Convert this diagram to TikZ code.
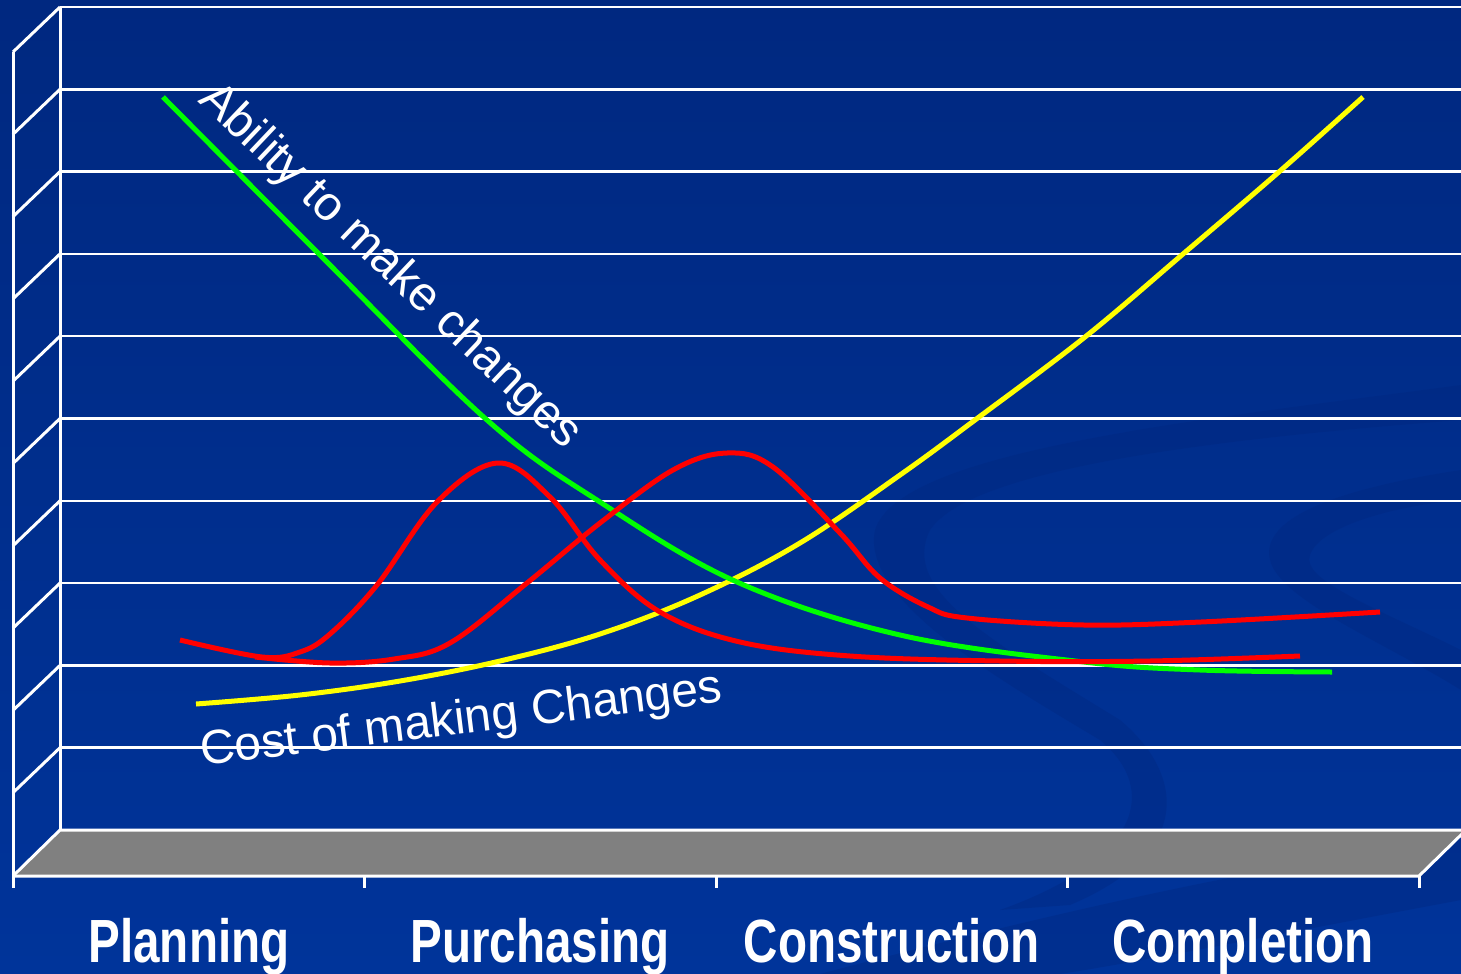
\documentclass[tikz,border=0pt]{standalone}
\usepackage{fontspec}
\setmainfont{Liberation Sans}
\newfontfamily\phasefont[FakeStretch=0.78]{Liberation Sans}
\definecolor{slidetop}{RGB}{0,40,128}
\definecolor{slideblue}{RGB}{0,52,154}
\definecolor{swirl}{RGB}{0,38,125}
\definecolor{floorgray}{RGB}{128,128,128}
\definecolor{abilitygreen}{RGB}{0,255,0}
\definecolor{costyellow}{RGB}{255,255,0}
\definecolor{effortred}{RGB}{255,0,0}

\begin{document}
\begin{tikzpicture}[x=1pt,y=-1pt,
  grid/.style={white, line width=2.5pt},
  frame/.style={white, line width=3pt},
  curve/.style={line width=5pt},
  phase/.style={white, inner sep=0pt, font=\phasefont\bfseries\fontsize{61}{70}\selectfont},
  note/.style={white, inner sep=0pt, font=\fontsize{48}{56}\selectfont}]
\useasboundingbox (0,0) rectangle (1461,974);
\shade[top color=slidetop, bottom color=slideblue] (0,0) rectangle (1461,974);

% faint swirls of the slide background
\fill[swirl, opacity=0.35] (1461,385) .. controls (1200,420) and (900,450) .. (875,530)
  .. controls (860,600) and (1000,680) .. (1100,740) .. controls (1160,790) and (1140,860) .. (1000,910)
  -- (1070,905) .. controls (1200,850) and (1180,770) .. (1120,720)
  .. controls (990,640) and (900,590) .. (930,530) .. controls (970,470) and (1200,440) .. (1461,420) -- cycle;
\fill[swirl, opacity=0.35] (1461,470) .. controls (1330,490) and (1260,520) .. (1270,560)
  .. controls (1280,600) and (1380,640) .. (1461,690) -- (1461,650)
  .. controls (1380,610) and (1300,580) .. (1310,555) .. controls (1320,525) and (1400,505) .. (1461,500) -- cycle;
\fill[swirl, opacity=0.35] (820,974) .. controls (1100,900) and (1300,860) .. (1461,840)
  -- (1461,900) .. controls (1300,930) and (1150,960) .. (1060,974) -- cycle;

% back wall and side wall
\foreach \k in {0,...,10}
  \draw[grid] (60,{7+82.3*\k}) -- (1461,{7+82.3*\k});
\foreach \k in {0,...,9}
  \draw[frame] (60,{7+82.3*\k}) -- (13,{52+82.3*\k});
\draw[frame] (60,7) -- (60,830);
\draw[frame] (13,52) -- (13,888);

% floor
\fill[floorgray] (60,830) -- (1466,830) -- (1419,876) -- (13,876) -- cycle;
\draw[frame] (13,876) -- (60,830) -- (1466,830);
\draw[frame] (13,876) -- (1419,876) -- (1466,830);
\foreach \x in {364.5,716,1067.5,1419}
  \draw[frame] (\x,876) -- (\x,888);

% curves
\draw[curve, costyellow] plot[smooth, tension=0.6] coordinates {(196,704) (300,695) (400,681) (500,661)
  (600,634) (700,595) (800,543) (900,475) (975,420) (1085,337) (1183,254) (1280,171) (1363,97)};
\draw[curve, abilitygreen] plot[smooth, tension=0.6] coordinates {(163,97) (320,255) (487,420)
  (600,502) (737,582) (900,635) (1084,662) (1200,670) (1332,672)};
\draw[curve, effortred] plot[smooth, tension=0.6] coordinates {(180,640) (262,657) (300,652)
  (330,634) (377,585) (437,502) (498,463) (550,497) (600,560) (660,612) (740,642) (850,656)
  (1000,661) (1150,661) (1300,656)};
\draw[curve, effortred] plot[smooth, tension=0.6] coordinates {(255,657) (330,663) (394,659) (450,643)
  (527,583) (600,523) (673,470) (727,453) (773,467) (840,533) (880,578) (928,607) (967,618)
  (1084,625) (1201,622) (1380,612)};

% labels
\node[note, rotate=-43.5, anchor=base west] (ability) at (197,101) {Ability to make changes};
\node[note, rotate=7, anchor=base west] (cost) at (202,766) {Cost of making Changes};

\node[phase, anchor=base] (planning) at (189,962) {Planning};
\node[phase, anchor=base] (purchasing) at (540,962) {Purchasing};
\node[phase, anchor=base] (construction) at (892,962) {Construction};
\node[phase, anchor=base] (completion) at (1243,962) {Completion};
\end{tikzpicture}
\end{document}
